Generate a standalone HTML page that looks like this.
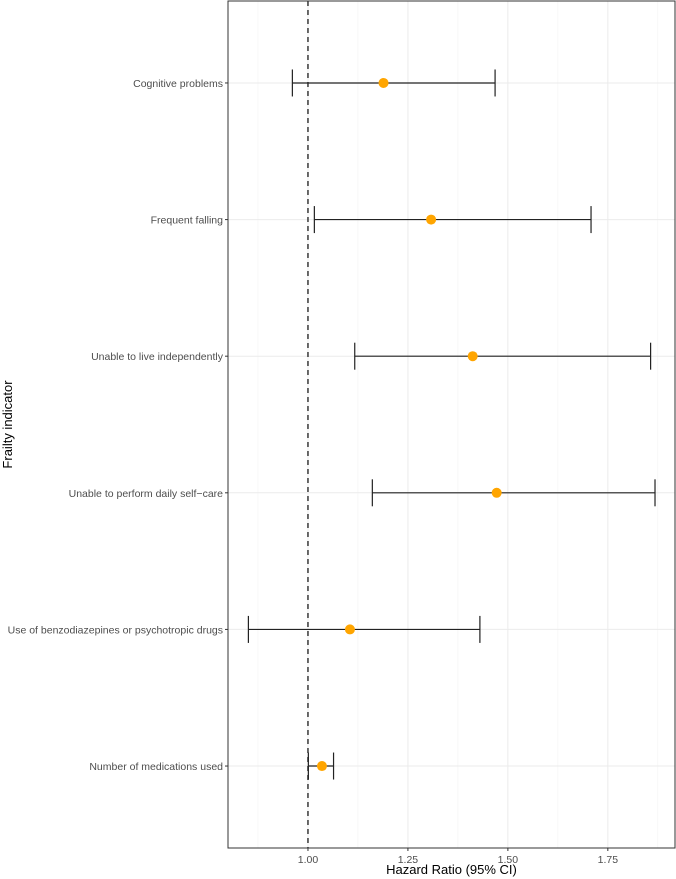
<!DOCTYPE html>
<html><head><meta charset="utf-8"><style>
body{margin:0;background:#fff;}
svg{display:block;font-family:"Liberation Sans",sans-serif;}
</style></head><body>
<svg id="chart" width="676" height="879"></svg>
<script>
const categories=["Cognitive problems","Frequent falling","Unable to live independently","Unable to perform daily self\u2212care","Use of benzodiazepines or psychotropic drugs","Number of medications used"];
const estimates=[1.189,1.308,1.412,1.472,1.105,1.035];
const lowerCI=[0.961,1.016,1.117,1.161,0.851,1.001];
const upperCI=[1.468,1.708,1.857,1.868,1.43,1.064];
const xTicks=[1.00,1.25,1.50,1.75];
const xTickLabels=["1.00","1.25","1.50","1.75"];
const NS="http://www.w3.org/2000/svg";
const svg=document.getElementById('chart');
const L=228,R=675,T=1,B=848;
const xMin=0.8,xMax=1.918;
function x(v){return L+(v-xMin)/(xMax-xMin)*(R-L);}
function y(i){const n=categories.length;return T+(i+0.6)/(n+0.2)*(B-T);}
function mk(tag,attrs,parent){const e=document.createElementNS(NS,tag);for(const k in attrs)e.setAttribute(k,attrs[k]);(parent||svg).appendChild(e);return e;}
// grid
for(let i=0;i<xTicks.length;i++){
 const g=mk('line',{x1:x(xTicks[i]),x2:x(xTicks[i]),y1:T,y2:B,stroke:'#ebebeb','stroke-width':1});
 
 
}
for(let v=xTicks[0]-0.125;v<xMax;v+=0.25){
 const g=mk('line',{x1:x(v),x2:x(v),y1:T,y2:B,stroke:'#f3f3f3','stroke-width':0.6});
 
 
}
categories.forEach((c,i)=>{
 const g=mk('line',{x1:L,x2:R,y1:y(i),y2:y(i),stroke:'#ebebeb','stroke-width':1});
 
 
});
// reference line
const ref=mk('line',{x1:x(1),x2:x(1),y1:T,y2:B,stroke:'#444','stroke-width':1.6,'stroke-dasharray':'5,4'});


// series
categories.forEach((c,i)=>{
 const yy=y(i);
 const g=mk('g',{});
 
 
 mk('line',{x1:x(lowerCI[i]),x2:x(upperCI[i]),y1:yy,y2:yy,stroke:'#222','stroke-width':1.2},g);
 mk('line',{x1:x(lowerCI[i]),x2:x(lowerCI[i]),y1:yy-13.5,y2:yy+13.5,stroke:'#222','stroke-width':1.2},g);
 mk('line',{x1:x(upperCI[i]),x2:x(upperCI[i]),y1:yy-13.5,y2:yy+13.5,stroke:'#222','stroke-width':1.2},g);
 const p=mk('circle',{cx:x(estimates[i]),cy:yy,r:5,fill:'#FFA500'},g);
 
 
 const t=mk('line',{x1:L-3,x2:L,y1:yy,y2:yy,stroke:'#333','stroke-width':1});
 const lb=mk('text',{x:L-5,y:yy+4,'text-anchor':'end','font-size':'10.5',fill:'#4d4d4d'});
 lb.textContent=c;
 
 
});
// panel border
const border=mk('rect',{x:L,y:T,width:R-L,height:B-T,fill:'none',stroke:'#333','stroke-width':1});


xTicks.forEach((v,i)=>{
 mk('line',{x1:x(v),x2:x(v),y1:B,y2:B+3,stroke:'#333','stroke-width':1});
 const t=mk('text',{x:x(v),y:B+15,'text-anchor':'middle','font-size':'10.5',fill:'#4d4d4d'});
 t.textContent=xTickLabels[i];
 
 
});
const xt=mk('text',{x:(L+R)/2,y:B+26,'text-anchor':'middle','font-size':'13',fill:'#000'});
xt.textContent='Hazard Ratio (95% CI)';


const yt=mk('text',{x:0,y:0,'text-anchor':'middle','font-size':'13',fill:'#000',transform:`translate(12,${(T+B)/2}) rotate(-90)`});
yt.textContent='Frailty indicator';


</script>
</body></html>
